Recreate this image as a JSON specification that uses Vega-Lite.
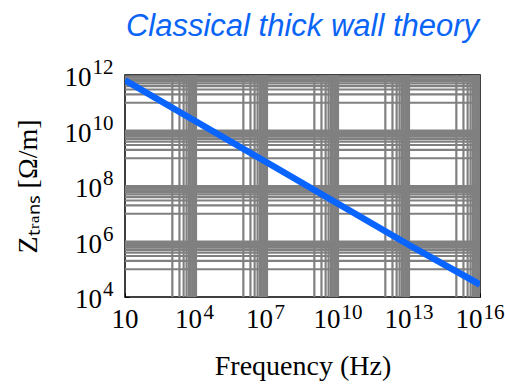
{
  "$schema": "https://vega.github.io/schema/vega-lite/v6.json",
  "width": 355,
  "height": 222,
  "autosize": {"type": "none"},
  "padding": {"left": 125, "top": 75, "right": 25, "bottom": 87},
  "title": {
    "text": "Classical thick wall theory",
    "font": "Liberation Sans",
    "fontStyle": "italic",
    "fontWeight": "normal",
    "fontSize": 31,
    "color": "#0a64f5",
    "offset": 14,
    "anchor": "middle"
  },
  "datasets": {
    "xgrid": [
      {"f": 1000}, {"f": 2000}, {"f": 3000}, {"f": 4000}, {"f": 5000}, {"f": 6000}, {"f": 7000}, {"f": 8000}, {"f": 9000}, {"f": 10000},
      {"f": 1e6}, {"f": 2e6}, {"f": 3e6}, {"f": 4e6}, {"f": 5e6}, {"f": 6e6}, {"f": 7e6}, {"f": 8e6}, {"f": 9e6}, {"f": 1e7},
      {"f": 1e9}, {"f": 2e9}, {"f": 3e9}, {"f": 4e9}, {"f": 5e9}, {"f": 6e9}, {"f": 7e9}, {"f": 8e9}, {"f": 9e9}, {"f": 1e10},
      {"f": 1e12}, {"f": 2e12}, {"f": 3e12}, {"f": 4e12}, {"f": 5e12}, {"f": 6e12}, {"f": 7e12}, {"f": 8e12}, {"f": 9e12}, {"f": 1e13},
      {"f": 1e15}, {"f": 2e15}, {"f": 3e15}, {"f": 4e15}, {"f": 5e15}, {"f": 6e15}, {"f": 7e15}, {"f": 8e15}, {"f": 9e15}
    ],
    "ygrid": [
      {"z": 1e5}, {"z": 2e5}, {"z": 3e5}, {"z": 4e5}, {"z": 5e5}, {"z": 6e5}, {"z": 7e5}, {"z": 8e5}, {"z": 9e5}, {"z": 1e6},
      {"z": 1e7}, {"z": 2e7}, {"z": 3e7}, {"z": 4e7}, {"z": 5e7}, {"z": 6e7}, {"z": 7e7}, {"z": 8e7}, {"z": 9e7}, {"z": 1e8},
      {"z": 1e9}, {"z": 2e9}, {"z": 3e9}, {"z": 4e9}, {"z": 5e9}, {"z": 6e9}, {"z": 7e9}, {"z": 8e9}, {"z": 9e9}, {"z": 1e10},
      {"z": 1e11}, {"z": 2e11}, {"z": 3e11}, {"z": 4e11}, {"z": 5e11}, {"z": 6e11}, {"z": 7e11}, {"z": 8e11}, {"z": 9e11}
    ],
    "curve": [
      {"f": 10, "z": 6.5e11},
      {"f": 1e4, "z": 2.1e10},
      {"f": 1e7, "z": 7e8},
      {"f": 1e10, "z": 2.3e7},
      {"f": 1e13, "z": 7.5e5},
      {"f": 1e16, "z": 2.8e4}
    ],
    "xlab": [
      {"f": 10, "e": ""},
      {"f": 1e4, "e": "4"},
      {"f": 1e7, "e": "7"},
      {"f": 1e10, "e": "10"},
      {"f": 1e13, "e": "13"},
      {"f": 1e16, "e": "16"}
    ],
    "ylab": [
      {"z": 1e4, "e": "4"},
      {"z": 1e6, "e": "6"},
      {"z": 1e8, "e": "8"},
      {"z": 1e10, "e": "10"},
      {"z": 1e12, "e": "12"}
    ]
  },
  "layer": [
    {
      "data": {"name": "xgrid"},
      "mark": {"type": "rule", "color": "#808080", "strokeWidth": 2.2},
      "encoding": {
        "x": {"field": "f", "type": "quantitative",
          "scale": {"type": "log", "domain": [10, 1e16], "nice": false},
          "axis": {"title": "Frequency (Hz)", "values": [10, 1e4, 1e7, 1e10, 1e13, 1e16], "labels": false, "titlePadding": 55}}
      }
    },
    {
      "data": {"name": "ygrid"},
      "mark": {"type": "rule", "color": "#808080", "strokeWidth": 2.2},
      "encoding": {
        "y": {"field": "z", "type": "quantitative",
          "scale": {"type": "log", "domain": [1e4, 1e12], "nice": false},
          "axis": {"title": "Zₜᵣₐₙₛ [Ω/m]", "values": [1e4, 1e6, 1e8, 1e10, 1e12], "labels": false, "titlePadding": 82}}
      }
    },
    {
      "data": {"name": "curve"},
      "mark": {"type": "line", "color": "#0a64ff", "strokeWidth": 6.5, "clip": true, "strokeCap": "butt"},
      "encoding": {
        "x": {"field": "f", "type": "quantitative",
          "scale": {"type": "log", "domain": [10, 1e16], "nice": false},
          "axis": {"title": "Frequency (Hz)", "values": [10, 1e4, 1e7, 1e10, 1e13, 1e16], "labels": false, "titlePadding": 55}},
        "y": {"field": "z", "type": "quantitative",
          "scale": {"type": "log", "domain": [1e4, 1e12], "nice": false},
          "axis": {"title": "Zₜᵣₐₙₛ [Ω/m]", "values": [1e4, 1e6, 1e8, 1e10, 1e12], "labels": false, "titlePadding": 82}}
      }
    },
    {
      "data": {"name": "xlab"},
      "layer": [
        {
          "transform": [{"filter": "datum.e == ''"}],
          "mark": {"type": "text", "text": "10", "align": "center", "baseline": "alphabetic", "dy": 31, "font": "Liberation Serif", "fontSize": 27, "color": "#000000"}
        },
        {
          "transform": [{"filter": "length(datum.e) == 1"}],
          "mark": {"type": "text", "text": "10", "align": "right", "baseline": "alphabetic", "dx": 6, "dy": 31, "font": "Liberation Serif", "fontSize": 27, "color": "#000000"}
        },
        {
          "transform": [{"filter": "length(datum.e) == 2"}],
          "mark": {"type": "text", "text": "10", "align": "right", "baseline": "alphabetic", "dx": 2.5, "dy": 31, "font": "Liberation Serif", "fontSize": 27, "color": "#000000"}
        },
        {
          "transform": [{"filter": "length(datum.e) == 1"}],
          "mark": {"type": "text", "align": "left", "baseline": "alphabetic", "dx": 7.5, "dy": 21.5, "font": "Liberation Serif", "fontSize": 21, "color": "#000000"},
          "encoding": {"text": {"field": "e"}}
        },
        {
          "transform": [{"filter": "length(datum.e) == 2"}],
          "mark": {"type": "text", "align": "left", "baseline": "alphabetic", "dx": 3.5, "dy": 21.5, "font": "Liberation Serif", "fontSize": 21, "color": "#000000"},
          "encoding": {"text": {"field": "e"}}
        }
      ],
      "encoding": {
        "x": {"field": "f", "type": "quantitative",
          "scale": {"type": "log", "domain": [10, 1e16], "nice": false},
          "axis": {"title": "Frequency (Hz)", "values": [10, 1e4, 1e7, 1e10, 1e13, 1e16], "labels": false, "titlePadding": 55}},
        "y": {"datum": 10000, "type": "quantitative",
          "scale": {"type": "log", "domain": [1e4, 1e12], "nice": false},
          "axis": {"title": "Zₜᵣₐₙₛ [Ω/m]", "values": [1e4, 1e6, 1e8, 1e10, 1e12], "labels": false, "titlePadding": 82}}
      }
    },
    {
      "data": {"name": "ylab"},
      "layer": [
        {
          "transform": [{"filter": "length(datum.e) == 1"}],
          "mark": {"type": "text", "text": "10", "align": "right", "baseline": "alphabetic", "dx": -23, "dy": 11, "font": "Liberation Serif", "fontSize": 27, "color": "#000000"}
        },
        {
          "transform": [{"filter": "length(datum.e) == 2"}],
          "mark": {"type": "text", "text": "10", "align": "right", "baseline": "alphabetic", "dx": -33.5, "dy": 11, "font": "Liberation Serif", "fontSize": 27, "color": "#000000"}
        },
        {
          "mark": {"type": "text", "align": "right", "baseline": "alphabetic", "dx": -11.5, "dy": -1, "font": "Liberation Serif", "fontSize": 21, "color": "#000000"},
          "encoding": {"text": {"field": "e"}}
        }
      ],
      "encoding": {
        "x": {"datum": 10, "type": "quantitative",
          "scale": {"type": "log", "domain": [10, 1e16], "nice": false},
          "axis": {"title": "Frequency (Hz)", "values": [10, 1e4, 1e7, 1e10, 1e13, 1e16], "labels": false, "titlePadding": 55}},
        "y": {"field": "z", "type": "quantitative",
          "scale": {"type": "log", "domain": [1e4, 1e12], "nice": false},
          "axis": {"title": "Zₜᵣₐₙₛ [Ω/m]", "values": [1e4, 1e6, 1e8, 1e10, 1e12], "labels": false, "titlePadding": 82}}
      }
    }
  ],
  "config": {
    "view": {"stroke": "#000000", "strokeWidth": 1.5},
    "axis": {
      "domain": false,
      "grid": false,
      "ticks": true,
      "tickSize": -4,
      "tickColor": "#000000",
      "titleFont": "Liberation Serif",
      "titleFontSize": 28,
      "titleFontWeight": "normal",
      "titleColor": "#000000"
    }
  }
}
